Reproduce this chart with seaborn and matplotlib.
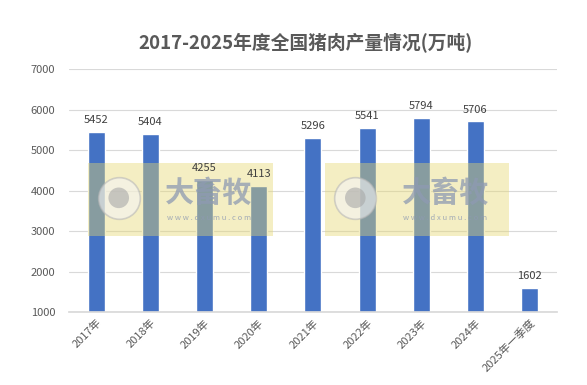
import matplotlib
matplotlib.use("Agg")
import matplotlib.pyplot as plt
import seaborn as sns
import pandas as pd
from matplotlib.patches import Rectangle

# Data
years = ["2017年", "2018年", "2019年", "2020年", "2021年", "2022年", "2023年", "2024年", "2025年一季度"]
output = [5452, 5404, 4255, 4113, 5296, 5541, 5794, 5706, 1602]
yticks = [1000, 2000, 3000, 4000, 5000, 6000, 7000]

df = pd.DataFrame({"year": years, "output": output})

sns.set_theme(style="white")
plt.rcParams["font.family"] = ["Noto Sans CJK SC", "DejaVu Sans"]

fig = plt.figure(figsize=(5.87, 3.85), dpi=100)
ax = fig.add_axes([0.1175, 0.1896, 0.831, 0.631])

sns.barplot(data=df, x="year", y="output", color="#4472C4", width=0.315,
            saturation=1, ax=ax, zorder=2)

ax.set_ylim(1000, 7000)
ax.set_yticks(yticks)
ax.set_yticklabels([str(v) for v in yticks], fontsize=8, color="#595959")
ax.set_xlim(-0.5, len(years) - 0.5)
ax.set_xticks(range(len(years)))
ax.set_xticklabels(years, rotation=45, ha="right", rotation_mode="anchor",
                   fontsize=8, color="#595959")
ax.yaxis.set_tick_params(length=0, pad=10)
ax.xaxis.set_tick_params(length=0, pad=4)
ax.set_xlabel("")
ax.set_ylabel("")
ax.grid(axis="y", color="#D9D9D9", linewidth=0.8, zorder=0)
for s in ["top", "right", "left"]:
    ax.spines[s].set_visible(False)
ax.spines["bottom"].set_color("#D9D9D9")

# value labels
for i, v in enumerate(output):
    ax.text(i, v + 170, str(v), ha="center", va="bottom", fontsize=8, color="#404040", zorder=5)

# watermarks
for x0 in [0.04, 0.525]:
    ax.add_patch(Rectangle((x0, 0.313), 0.378, 0.3, transform=ax.transAxes,
                           facecolor="#E6D870", alpha=0.42, edgecolor="none", zorder=4))
    ax.scatter([x0 + 0.062], [0.47], s=900, transform=ax.transAxes, marker="o",
               facecolor="#F4F4F4", edgecolor="#B8B8B8", linewidth=1.2, alpha=0.6, zorder=4,
               clip_on=False)
    ax.scatter([x0 + 0.062], [0.47], s=220, transform=ax.transAxes, marker="o",
               facecolor="#A8A8A8", edgecolor="none", alpha=0.6, zorder=4, clip_on=False)
    ax.text(x0 + 0.247, 0.49, "大畜牧", transform=ax.transAxes, ha="center", va="center",
            fontsize=21, fontweight="bold", color="#8E9AB2", alpha=0.75, zorder=4)
    ax.text(x0 + 0.247, 0.385, "w w w . d x u m u . c o m", transform=ax.transAxes, ha="center",
            va="center", fontsize=5.5, color="#8E9AB2", alpha=0.8, zorder=4)

fig.suptitle("2017-2025年度全国猪肉产量情况(万吨)", x=0.52, y=0.915, fontsize=13.5,
             fontweight="bold", color="#595959")

fig.savefig("out.png", dpi=100)
